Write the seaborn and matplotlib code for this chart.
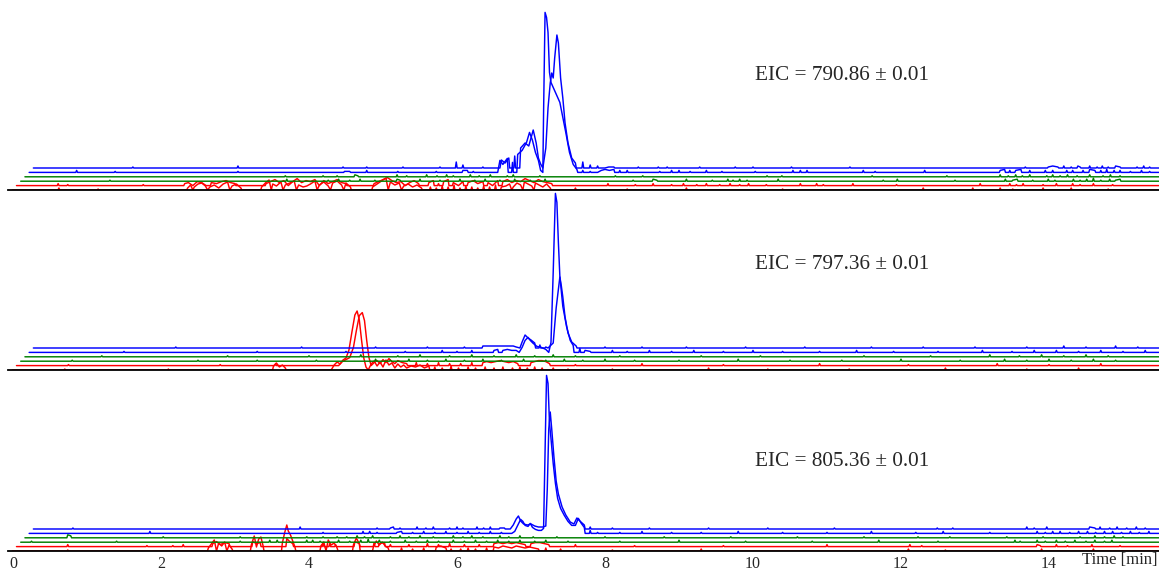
import matplotlib
matplotlib.use("Agg")
import matplotlib.pyplot as plt
import seaborn as sns

# ---------------- data: (retention time [min], intensity) per trace ----------------
EIC_LABELS = ["EIC = 790.86 \u00b1 0.01", "EIC = 797.36 \u00b1 0.01", "EIC = 805.36 \u00b1 0.01"]
TRACE_COLORS = ["red", "red", "green", "green", "blue", "blue"]
TICKS_MAJOR = [0, 2, 4, 6, 8, 10, 12, 14]
TICKS_MINOR = list(range(0, 16))

# Panel 1 (EIC 790.86)
P1_RED0 = [(0.62,2),(1.15,1),(2.36,2),(2.40,5),(2.43,0),(2.45,3),(2.50,6),(2.55,7),(2.60,4),(2.63,0),(2.66,3),(2.72,5),(2.78,2),(2.84,6),(2.90,8),(2.93,0),(2.96,4),(3.02,6),(3.08,2),
           (3.36,3),(3.41,7),(3.46,10),(3.49,0),(3.51,6),(3.56,4),(3.62,8),(3.65,0),(3.68,5),(3.74,7),(3.80,9),(3.83,0),(3.86,5),(3.92,3),(3.97,4),(4.02,6),(4.08,9),(4.11,0),(4.14,5),(4.20,8),(4.26,4),(4.29,0),(4.32,7),(4.38,9),(4.44,5),(4.47,0),(4.50,7),(4.56,3),
           (4.86,3),(4.92,6),(4.98,9),(5.04,12),(5.07,0),(5.10,8),(5.16,5),(5.22,7),(5.25,0),(5.28,4),(5.34,6),(5.40,3),(5.46,5),(5.52,2),
           (5.64,3),(5.72,2),(5.80,4),(5.88,3),(5.96,5),(6.04,2),(6.12,4),(6.20,3),(6.28,2),(6.36,4),(6.44,3),(6.52,5),(6.60,3),
           (6.66,4),(6.71,6),(6.74,0),(6.76,3),(6.81,7),(6.86,5),(6.89,0),(6.91,8),(6.96,6),(7.01,4),(7.04,0),(7.06,7),(7.11,5),(7.16,3),(7.21,6),(7.26,2),
           (7.60,2),(8.30,1),(9.10,2),(10.40,1),(12.30,2),(12.97,2),(13.34,2),(13.51,1),(13.92,2),(14.30,2),(14.80,1)]
P1_RED1 = [(0.61,2),(0.74,1),(1.76,1),(2.32,2),(2.37,3),(2.43,0),(2.49,4),(2.55,3),(2.61,0),(2.68,3),(2.75,2),(2.82,4),(2.88,5),(2.94,3),(3.00,2),
           (3.42,2),(3.48,4),(3.54,6),(3.60,3),(3.66,5),(3.72,0),(3.78,4),(3.84,7),(3.90,3),(3.96,5),(4.02,4),(4.08,6),(4.14,0),(4.20,5),(4.26,2),(4.32,4),(4.38,6),(4.44,3),(4.50,2),
           (4.88,2),(4.94,4),(5.00,6),(5.06,8),(5.12,5),(5.18,3),(5.24,4),(5.30,0),(5.36,3),(5.42,5),(5.48,2),
           (5.62,3),(5.68,5),(5.75,2),(5.82,4),(5.88,6),(5.95,3),(6.02,0),(6.08,4),(6.15,3),(6.22,5),(6.28,2),(6.35,4),(6.42,3),(6.48,0),(6.55,5),(6.62,4),(6.68,6),(6.74,3),(6.80,5),(6.86,4),(6.92,7),(6.98,5),(7.04,3),(7.10,6),(7.16,4),(7.22,3),(7.28,2),
           (8.04,2),(8.41,1),(8.65,2),(8.90,1),(9.06,2),(9.24,1),(9.37,2),(9.55,1),(9.69,2),(9.82,1),(9.94,2),(10.18,1),(10.64,2),(10.86,2),(10.95,1),(11.35,2),(11.94,1),
           (13.07,2),(13.47,2),(13.56,1),(13.65,2),(13.92,1),(14.10,2),(14.32,2),(14.42,1),(14.60,2),(14.86,1)]
P1_GRN0 = [(1.31,1),(3.70,2),(4.26,1),(4.40,2),(4.55,1),(4.69,2),(4.89,1),(5.19,2),(5.23,1),(5.50,2),(5.77,1),(6.04,2),(6.24,1),(6.38,2),(6.58,1),(6.78,2),(6.99,1),(7.19,2),
           (8.38,1),(8.65,2),(8.70,1),(9.10,2),(9.45,1),(9.66,2),(9.73,1),(9.82,2),(9.92,1),(10.34,2),(11.76,1),(11.95,2),(12.73,1),(13.41,2),(13.51,1),(13.57,2),(13.78,1),
           (13.99,2),(14.08,1),(14.33,2),(14.42,1),(14.51,2),(14.60,3),(14.70,1),(14.82,2),(14.90,1),(14.96,2)]
P1_GRN1 = [(3.68,1),(4.19,1),(4.38,1),(4.62,2),(4.66,1),(5.19,2),(5.32,1),(5.59,2),(5.73,1),(5.86,2),(5.95,1),(6.18,2),(6.30,1),(6.45,2),(6.68,1),(6.76,2),(7.12,1),
           (8.14,1),(8.51,1),(10.19,1),(10.39,1),(11.61,1),(12.62,1),(13.34,2),(13.45,1),(13.55,2),(13.64,1),(13.74,2),(13.97,1),(14.05,2),(14.15,1),(14.25,2),(14.38,1),
           (14.55,2),(14.73,1),(14.83,2),(14.96,1)]
P1_BLU0 = [(0.86,2),(1.38,1),(3.04,1),(4.48,1),(4.55,1),(4.78,2),(5.20,1),(5.72,1),(6.08,2),(6.14,2),(6.22,1),
           (6.55,0),(6.58,12),(6.62,8),(6.68,14),(6.75,10),(6.82,18),(6.88,22),(6.94,30),(6.98,40),(7.02,32),(7.06,20),(7.10,12),(7.13,2),(7.16,0),(7.17,60),
           (7.19,160),(7.21,155),(7.23,140),(7.25,100),(7.27,90),(7.30,85),(7.33,80),(7.36,75),(7.39,70),(7.43,55),(7.47,40),(7.52,20),(7.57,8),(7.62,3),(7.70,2),(7.80,1),(7.90,0),
           (7.95,2),(8.00,3),(8.06,2),(8.12,3),(8.20,2),(8.30,2),(8.74,1),(8.90,2),(9.00,2),(9.15,1),(9.37,2),(9.58,1),(10.03,1),(10.54,2),(10.64,2),(10.73,2),(11.49,2),(11.65,1),
           (12.32,2),(13.34,2),(13.40,3),(13.47,2),(13.55,2),(13.62,3),(13.74,2),(13.95,2),(14.05,2),(14.24,2),(14.32,2),(14.46,2),(14.55,3),(14.62,2),(14.70,2),(14.78,3),
           (14.88,2),(14.96,2),(15.10,1),(15.25,2),(15.36,1)]
P1_BLU1 = [(1.62,1),(3.04,2),(4.46,1),(4.78,1),(5.27,1),(5.77,1),(5.99,6),(6.08,3),(6.35,1),
           (6.58,0),(6.60,8),(6.65,5),(6.70,10),(6.78,12),(6.86,20),(6.92,25),(6.97,22),(7.03,38),(7.07,25),(7.10,10),(7.13,4),(7.16,0),(7.20,20),(7.23,60),(7.26,85),
           (7.28,95),(7.30,90),(7.32,110),(7.35,133),(7.37,125),(7.40,90),(7.43,70),(7.46,45),(7.50,25),(7.55,10),(7.60,5),(7.70,6),(7.80,3),(7.90,2),(8.00,0),
           (8.05,1),(8.12,1),(8.45,1),(8.72,1),(8.84,1),(9.28,1),(9.76,1),(10.00,1),(10.52,1),(11.31,1),(13.68,1),(13.99,1),(14.05,2),(14.12,1),(14.20,2),(14.30,1),
           (14.39,2),(14.42,1),(14.55,2),(14.65,1),(14.72,2),(14.80,1),(14.90,2),(14.96,1),(15.19,1),(15.28,2),(15.36,1)]

# Panel 2 (EIC 797.36)
P2_RED0 = [(0.70,1),(2.10,1),(3.52,4),(3.56,7),(3.60,3),(3.64,5),(3.68,2),
           (4.30,0),(4.34,5),(4.38,8),(4.42,6),(4.46,10),(4.50,12),(4.54,20),(4.58,38),(4.62,55),(4.65,59),(4.68,50),(4.71,30),(4.74,12),(4.77,3),(4.80,0),
           (4.84,6),(4.88,9),(4.92,4),(4.96,8),(5.00,3),(5.04,10),(5.08,5),(5.12,7),(5.16,2),(5.20,6),(5.24,3),(5.28,5),(5.32,2),(5.38,4),(5.44,3),(5.50,5),(5.56,2),(5.62,4),
           (5.70,3),(5.80,2),(5.92,4),(6.02,2),(6.15,3),(6.25,2),(6.38,3),(6.50,2),(6.62,3),(6.75,2),(6.85,3),(6.95,2),(7.05,3),(7.15,2),(7.30,2),(7.50,1),
           (8.10,1),(9.40,2),(10.20,1),(11.30,1),(12.60,2),(13.70,1),(14.40,2)]
P2_RED1 = [(0.75,1),(2.80,1),(3.55,2),
           (4.40,0),(4.45,4),(4.50,6),(4.55,8),(4.60,18),(4.64,35),(4.68,50),(4.72,53),(4.75,45),(4.78,25),(4.81,8),(4.84,0),
           (4.88,3),(4.92,5),(4.96,2),(5.00,6),(5.04,3),(5.08,7),(5.12,4),(5.16,2),(5.20,5),(5.26,3),(5.32,2),(5.45,3),(5.60,2),(5.75,3),(5.90,2),(6.05,2),(6.20,3),
           (6.35,3),(6.40,4),(6.46,3),(6.52,4),(6.58,5),(6.64,4),(6.70,3),(6.76,4),(6.82,2),(7.00,3),(7.05,4),(7.10,5),(7.15,5),(7.20,4),(7.25,2),
           (7.60,1),(8.50,2),(9.60,1),(10.90,2),(12.10,1),(13.30,2),(14.00,1),(14.70,2)]
P2_GRN0 = [(0.80,1),(2.50,1),(3.30,1),(4.10,1),(4.90,2),(5.10,1),(5.35,2),(5.60,1),(5.85,2),(6.10,1),(6.35,2),(6.60,1),(6.90,2),(7.20,1),(7.45,2),(7.70,1),(8.00,2),
           (8.40,1),(9.00,1),(9.80,2),(10.50,1),(11.20,1),(12.00,2),(12.80,1),(13.40,2),(13.70,1),(14.00,2),(14.30,1),(14.60,2),(14.90,1)]
P2_GRN1 = [(1.20,1),(2.90,1),(4.00,1),(4.70,2),(5.20,1),(5.50,2),(5.90,1),(6.20,2),(6.50,1),(6.80,2),(7.05,1),(7.30,2),(7.60,1),(8.20,1),(9.30,1),(10.10,1),(11.50,1),
           (12.40,1),(13.20,2),(13.60,1),(13.90,2),(14.20,1),(14.50,2),(14.80,1)]
P2_BLU0 = [(1.50,1),(3.30,1),(4.50,1),(5.30,1),(5.80,2),(6.00,1),(6.20,2),(6.50,2),(6.55,3),(6.62,2),(6.68,3),(6.74,2),(6.80,2),
           (6.84,0),(6.88,5),(6.92,12),(6.96,15),(6.99,12),(7.03,9),(7.08,6),(7.14,5),(7.20,3),(7.24,0),(7.27,10),(7.30,80),(7.33,159),(7.35,150),(7.37,110),(7.39,76),
           (7.43,46),(7.48,26),(7.53,12),(7.57,7),(7.66,4),(7.73,2),(7.80,1),(7.93,0),
           (8.10,2),(8.30,1),(8.60,2),(8.90,1),(9.20,2),(9.60,1),(10.00,2),(10.40,1),(10.90,1),(11.40,2),(11.90,1),(12.50,1),(13.10,2),(13.50,1),(13.80,2),(14.10,2),
           (14.40,1),(14.70,2),(15.00,1),(15.30,2)]
P2_BLU1 = [(2.20,1),(3.90,1),(4.90,1),(5.60,1),(6.10,1),(6.35,2),(6.40,2),(6.46,2),(6.52,2),(6.58,2),(6.64,2),(6.70,2),(6.76,2),(6.80,1),
           (6.85,0),(6.88,6),(6.92,13),(6.96,10),(7.00,8),(7.05,5),(7.12,3),(7.20,1),(7.23,0),(7.30,5),(7.34,40),(7.39,71),(7.41,62),(7.43,51),(7.46,31),(7.50,15),
           (7.55,6),(7.61,2),(7.73,0),
           (8.00,1),(8.50,1),(9.10,1),(9.90,1),(10.70,1),(11.60,1),(12.30,1),(13.00,1),(13.70,1),(14.20,2),(14.50,1),(14.90,2),(15.20,1)]

# Panel 3 (EIC 805.36)
P3_RED0 = [(0.74,1),(2.64,3),(2.68,7),(2.72,11),(2.75,0),(2.78,8),(2.82,5),(2.86,9),(2.89,0),(2.92,6),(2.96,2),
           (3.22,6),(3.26,15),(3.29,4),(3.32,12),(3.35,14),(3.38,5),(3.64,8),(3.67,18),(3.70,26),(3.72,20),(3.75,16),(3.78,10),(3.81,4),
           (4.16,5),(4.20,9),(4.23,0),(4.26,11),(4.30,6),(4.34,8),(4.38,3),(4.60,6),(4.64,13),(4.68,7),(4.87,4),(4.91,10),(4.95,6),(4.99,9),(5.03,5),(5.07,3),
           (5.25,3),(5.40,2),(5.55,3),(5.72,4),(5.78,5),(5.85,3),(5.92,2),(6.05,2),(6.15,3),(6.25,2),(6.40,3),(6.50,4),(6.56,3),(6.62,5),(6.68,4),(6.74,3),(6.80,5),
           (6.86,4),(6.92,3),(6.98,4),(7.04,3),(7.10,2),(7.20,3),(7.40,2),(8.10,1),(9.30,2),(12.10,2),(12.60,1),(13.90,2),(14.60,2)]
P3_RED1 = [(0.74,2),(1.81,1),(2.16,1),(2.30,2),(2.70,3),(2.75,5),(2.80,2),(2.86,4),(2.92,3),(3.24,5),(3.29,3),(3.34,4),(3.70,8),(3.74,5),(3.78,3),(4.19,4),(4.28,3),
           (4.36,2),(4.62,5),(4.68,3),(4.88,4),(4.95,3),(5.02,4),(5.10,2),(5.35,2),(5.60,3),(5.75,2),(5.90,3),(6.10,2),(6.30,2),(6.50,3),(6.56,4),(6.62,3),(6.68,4),
           (6.74,3),(6.80,4),(6.86,3),(6.92,2),(7.00,3),(7.06,4),(7.12,4),(7.18,3),(7.24,2),(7.60,2),(8.40,1),(9.60,1),(11.00,2),(12.12,2),(12.28,1),(13.84,2),
           (13.88,1),(14.10,2),(14.25,1),(14.58,2),(14.96,1)]
P3_GRN0 = [(0.25,1),(1.40,1),(3.07,1),(3.47,2),(3.57,2),(3.97,2),(4.05,2),(4.15,1),(4.40,2),(4.55,1),(4.70,2),(4.80,3),(4.95,2),(5.10,1),(5.30,2),(5.45,1),(5.60,2),
           (5.75,1),(5.95,2),(6.10,1),(6.25,2),(6.40,1),(6.55,2),(6.70,1),(6.85,2),(7.05,1),(7.20,2),(7.50,1),(8.20,1),(9.00,2),(9.90,1),(10.80,1),(11.70,2),(12.50,1),
           (13.54,2),(13.61,1),(13.84,2),(13.95,1),(14.10,2),(14.22,1),(14.35,2),(14.50,1),(14.62,2),(14.75,1),(14.85,2)]
P3_GRN1 = [(0.74,3),(0.78,2),(2.03,1),(3.07,1),(3.97,1),(4.19,1),(4.38,1),(4.51,1),(4.65,2),(4.75,1),(4.86,2),(5.10,1),(5.23,2),(5.35,1),(5.50,2),(5.68,1),(5.95,2),
           (6.08,1),(6.20,2),(6.35,1),(6.58,2),(6.70,1),(6.85,2),(7.03,1),(7.35,1),(8.00,1),(8.80,1),(9.70,1),(10.60,1),(11.50,1),(12.23,1),(12.66,1),(13.43,1),
           (13.92,1),(14.42,1),(14.62,2),(14.75,1),(14.88,2),(15.00,1)]
P3_BLU0 = [(1.85,2),(4.19,1),(4.73,2),(4.82,2),(4.92,1),(5.19,1),(5.25,2),(5.40,1),(5.55,2),(5.70,1),(5.85,2),(6.00,1),(6.15,2),(6.30,1),(6.45,2),(6.60,1),
           (6.74,0),(6.78,2),(6.82,8),(6.86,14),(6.89,12),(6.92,8),(6.96,7),(6.99,10),(7.02,6),(7.06,4),(7.10,3),(7.14,3),(7.17,5),(7.19,80),(7.21,158),(7.23,150),
           (7.25,110),(7.27,95),(7.30,70),(7.33,50),(7.36,35),(7.40,25),(7.45,18),(7.50,12),(7.55,8),(7.60,8),(7.64,15),(7.68,10),(7.72,6),(7.80,3),(7.90,1),(8.02,0),
           (8.20,1),(8.50,2),(8.90,1),(9.30,1),(9.80,2),(10.40,1),(11.00,1),(11.60,2),(12.20,1),(12.57,2),(13.20,1),(13.84,2),(13.95,1),(14.05,2),(14.15,2),(14.28,1),
           (14.40,2),(14.52,2),(14.63,1),(14.75,2),(14.86,2),(14.98,1),(15.10,2),(15.22,1),(15.35,2)]
P3_BLU1 = [(0.81,1),(3.88,2),(4.92,1),(5.10,1),(5.14,2),(5.23,1),(5.46,2),(5.58,1),(5.68,2),(5.90,1),(6.00,2),(6.08,1),(6.27,2),(6.36,1),(6.45,2),(6.58,1),(6.64,1),
           (6.72,0),(6.76,4),(6.80,10),(6.83,13),(6.86,8),(6.90,5),(6.95,4),(7.00,5),(7.05,3),(7.10,2),(7.16,2),(7.20,3),(7.22,40),(7.24,100),(7.26,117),(7.28,100),
           (7.31,72),(7.34,48),(7.37,35),(7.42,22),(7.47,14),(7.53,7),(7.58,5),(7.62,11),(7.66,8),(7.72,4),(7.80,2),(7.92,0),
           (8.10,1),(8.60,1),(9.40,1),(10.20,1),(11.10,1),(12.49,1),(12.70,1),(13.70,2),(13.80,1),(13.97,2),(14.55,2),(14.62,1),(14.69,2),(14.82,1),(14.92,2),
           (15.05,1),(15.18,2),(15.30,1)]

PANELS = [
    [P1_RED0, P1_RED1, P1_GRN0, P1_GRN1, P1_BLU0, P1_BLU1],
    [P2_RED0, P2_RED1, P2_GRN0, P2_GRN1, P2_BLU0, P2_BLU1],
    [P3_RED0, P3_RED1, P3_GRN0, P3_GRN1, P3_BLU0, P3_BLU1],
]

# ---------------- styling / layout ----------------
W, H, DPI = 1159, 571, 100
X_OFF = 0.057      # waterfall shift of each successive trace start [min]
Y_OFF = 4.4        # waterfall vertical offset per trace
T_END = 15.6
GAP = 0.07
HALF = 0.012


def trace_xy(points, start):
    pts = sorted(points)
    xs, ys = [start], [0.0]
    pt, ph = start, 0
    for t, h in pts:
        if t - pt > GAP:
            if ph != 0:
                xs.append(pt + HALF); ys.append(0.0)
            if h != 0:
                xs.append(t - HALF); ys.append(0.0)
        xs.append(t); ys.append(float(h))
        pt, ph = t, h
    if ph != 0:
        xs.append(pt + HALF); ys.append(0.0)
    xs.append(T_END); ys.append(0.0)
    return xs, ys


sns.set_style("white")
plt.rcParams["font.family"] = ["Liberation Serif", "DejaVu Serif"]

fig = plt.figure(figsize=(W / DPI, H / DPI), dpi=DPI)
axis_y_px = [190, 370, 551]
panel_h_px = 180
left_px = 8

for i, (traces, label) in enumerate(zip(PANELS, EIC_LABELS)):
    bottom = (H - axis_y_px[i]) / H
    ax = fig.add_axes([left_px / W, bottom, (W - left_px) / W, panel_h_px / H])
    ax.patch.set_visible(False)
    for k, (pts, col) in enumerate(zip(traces, TRACE_COLORS)):
        xs, ys = trace_xy(pts, -0.01 + k * X_OFF)
        ys = [y + k * Y_OFF for y in ys]
        sns.lineplot(x=xs, y=ys, ax=ax, color=col, linewidth=1.05, sort=False,
                     estimator=None, zorder=2 + 0.01 * k)
    ax.set_xlim((0 - (13 - left_px) / 74.0), (W - 13) / 74.0)
    ax.set_ylim(0, panel_h_px)
    for s in ["top", "left", "right"]:
        ax.spines[s].set_visible(False)
    ax.spines["bottom"].set_color("black")
    ax.spines["bottom"].set_linewidth(1.3)
    ax.spines["bottom"].set_zorder(3)
    ax.set_yticks([])
    ax.set_xticks(TICKS_MINOR)
    ax.tick_params(axis="x", direction="out", length=3, width=1, color="black", pad=0.5,
                   labelsize=11.5)
    if i == 2:
        ax.set_xticklabels([str(t) if t in TICKS_MAJOR else "" for t in TICKS_MINOR])
    else:
        ax.set_xticklabels([])
    ax.set_xlabel("")
    ax.set_ylabel("")
    label_y_px = [76, 265, 462][i]
    fig.text(755 / W, 1 - label_y_px / H, label, fontsize=15.3, ha="left", va="center")

fig.text(1157 / W, 1 - 560 / H, "Time [min]", fontsize=12, ha="right", va="center")

fig.savefig("out.png", dpi=DPI)
